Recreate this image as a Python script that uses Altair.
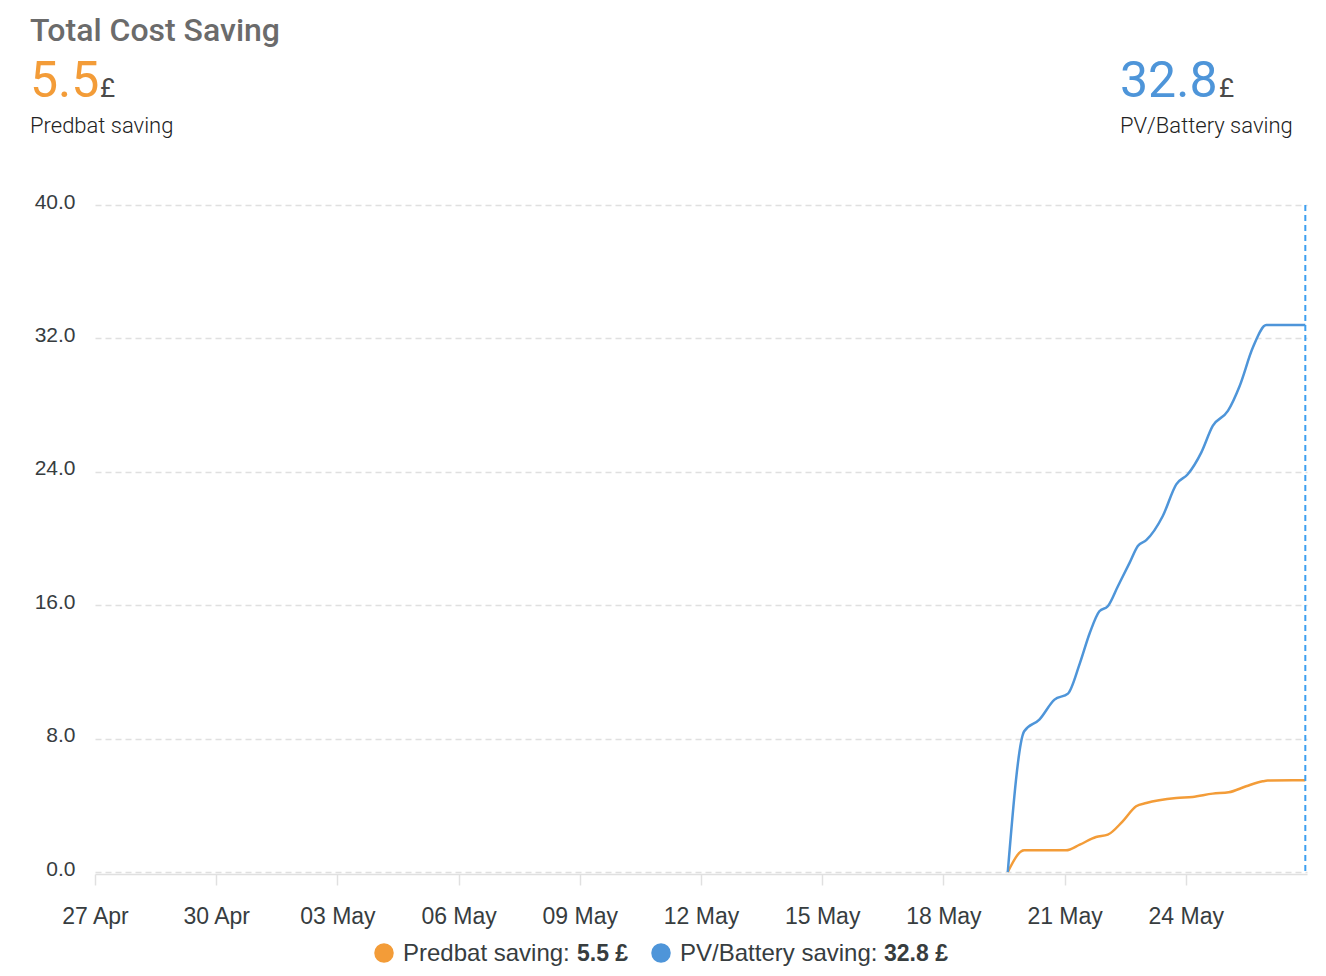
import altair as alt
import pandas as pd

# ---------------- data ----------------
series_names = ["Predbat saving", "PV/Battery saving"]
series_colors = ["#f39c38", "#4e95d9"]
totals = [5.5, 32.8]

predbat_times = ["2024-05-19T14:15", "2024-05-20T00:00", "2024-05-21T00:50", "2024-05-21T09:00",
                 "2024-05-21T18:40", "2024-05-22T01:40", "2024-05-22T10:30", "2024-05-22T18:30",
                 "2024-05-23T00:30", "2024-05-23T18:20", "2024-05-24T04:00", "2024-05-24T16:00",
                 "2024-05-25T01:30", "2024-05-25T11:50", "2024-05-25T21:40", "2024-05-26T00:40",
                 "2024-05-26T23:00"]
predbat_values = [0, 1.3, 1.3, 1.64, 2.1, 2.24, 3.04, 3.94, 4.14, 4.44, 4.5, 4.7, 4.78, 5.14,
                  5.44, 5.48, 5.5]

pv_times = ["2024-05-19T14:15", "2024-05-20T00:00", "2024-05-20T09:00", "2024-05-20T18:00",
            "2024-05-21T02:00", "2024-05-21T09:00", "2024-05-21T15:00", "2024-05-21T20:40",
            "2024-05-22T01:40", "2024-05-22T07:40", "2024-05-22T14:40", "2024-05-22T19:30",
            "2024-05-23T00:30", "2024-05-23T10:20", "2024-05-23T18:20", "2024-05-24T01:10",
            "2024-05-24T09:10", "2024-05-24T16:00", "2024-05-25T01:00", "2024-05-25T08:00",
            "2024-05-25T15:50", "2024-05-25T23:50", "2024-05-26T23:00"]
pv_values = [0, 8.44, 9.14, 10.34, 10.7, 12.5, 14.35, 15.64, 15.94, 17.14, 18.55, 19.55, 19.9,
             21.35, 23.25, 23.85, 25.15, 26.75, 27.65, 29.15, 31.45, 32.8, 32.8]

x_ticks = ["2024-04-27", "2024-04-30", "2024-05-03", "2024-05-06", "2024-05-09", "2024-05-12",
           "2024-05-15", "2024-05-18", "2024-05-21", "2024-05-24"]
x_range = ["2024-04-27", "2024-05-27"]
y_ticks = [0, 8, 16, 24, 32, 40]
cursor_time = ["2024-05-26T23:00"]

# ---------------- tables ----------------
df = pd.concat([
    pd.DataFrame({"time": pd.to_datetime(predbat_times), "value": predbat_values,
                  "series": series_names[0]}),
    pd.DataFrame({"time": pd.to_datetime(pv_times), "value": pv_values,
                  "series": series_names[1]}),
])
df["time"] = df["time"].dt.strftime("%Y-%m-%dT%H:%M:%S")
cursor_df = pd.DataFrame({"time": [pd.Timestamp(t).strftime("%Y-%m-%dT%H:%M:%S") for t in cursor_time]})


def dt(s):
    t = pd.Timestamp(s)
    return alt.DateTime(year=t.year, month=t.month, date=t.day)


AX_FONT = "Liberation Sans"
TXT = "#373d3f"

x_scale = alt.Scale(domain=[dt(x_range[0]), dt(x_range[1])])
x_axis = alt.Axis(values=[dt(s) for s in x_ticks], format="%d %b", title=None, grid=False,
                  domainColor="#e0e0e0", domainWidth=1.5, tickColor="#e0e0e0", tickWidth=1.5,
                  tickSize=11, labelPadding=20, labelFontSize=23, labelFont=AX_FONT,
                  labelColor=TXT, offset=2, labelFlush=False, labelOverlap=False)
y_axis = alt.Axis(values=y_ticks, format=".1f", title=None, domain=False, ticks=False, tickSize=0,
                  labelPadding=20, labelFontSize=21, labelFont=AX_FONT, labelColor=TXT,
                  gridColor="#e0e0e0", gridDash=[6, 4], gridWidth=1.5, labelOffset=-3)

lines = alt.Chart(df).mark_line(interpolate="monotone", strokeWidth=2.5).encode(
    x=alt.X("time:T", scale=x_scale, axis=x_axis),
    y=alt.Y("value:Q", scale=alt.Scale(domain=[0, 40], nice=False), axis=y_axis),
    color=alt.Color("series:N", scale=alt.Scale(domain=series_names, range=series_colors),
                    legend=None),
)

cursor = alt.Chart(cursor_df).mark_rule(color="#3d9ff0", strokeWidth=2, strokeDash=[6, 4]).encode(
    x="time:T")

dummy = pd.DataFrame({"k": [0]})


def label(txt, x, y, size, color, weight="normal", font="Roboto"):
    return alt.Chart(dummy).mark_text(text=txt, align="left", baseline="alphabetic",
                                      fontSize=size, color=color, fontWeight=weight,
                                      font=font).encode(x=alt.value(x), y=alt.value(y))


def dot(x, y, color):
    return alt.Chart(dummy).mark_circle(size=380, color=color, opacity=1).encode(
        x=alt.value(x), y=alt.value(y))


header = [
    label("Total Cost Saving", -65, -164, 32, "#6b6b6b", 500),
    label(f"{totals[0]}", -65, -108, 50, series_colors[0]),
    label("£", 5, -108, 26, "#4a4a4a"),
    label(series_names[0], -65, -72, 22, "#222222", 300),
    label(f"{totals[1]}", 1025, -108, 50, series_colors[1]),
    label("£", 1124, -108, 26, "#4a4a4a"),
    label(series_names[1], 1025, -72, 22, "#222222", 300),
]

legend = [
    dot(289, 748, series_colors[0]),
    label(series_names[0] + ":", 308, 756, 24, TXT, "normal", AX_FONT),
    label(f"{totals[0]} £", 482, 756, 23, TXT, "bold", AX_FONT),
    dot(566, 748, series_colors[1]),
    label(series_names[1] + ":", 585, 756, 24, TXT, "normal", AX_FONT),
    label(f"{totals[1]} £", 789, 756, 23, TXT, "bold", AX_FONT),
]

chart = alt.layer(lines, cursor, *header, *legend).properties(
    width=1212, height=667,
    autosize=alt.AutoSizeParams(type="none"),
    padding={"left": 87, "top": 197, "right": 6, "bottom": 100},
    background="white",
).configure_view(stroke=None)

chart.save("out.html", embed_options={"renderer": "svg", "actions": False})
